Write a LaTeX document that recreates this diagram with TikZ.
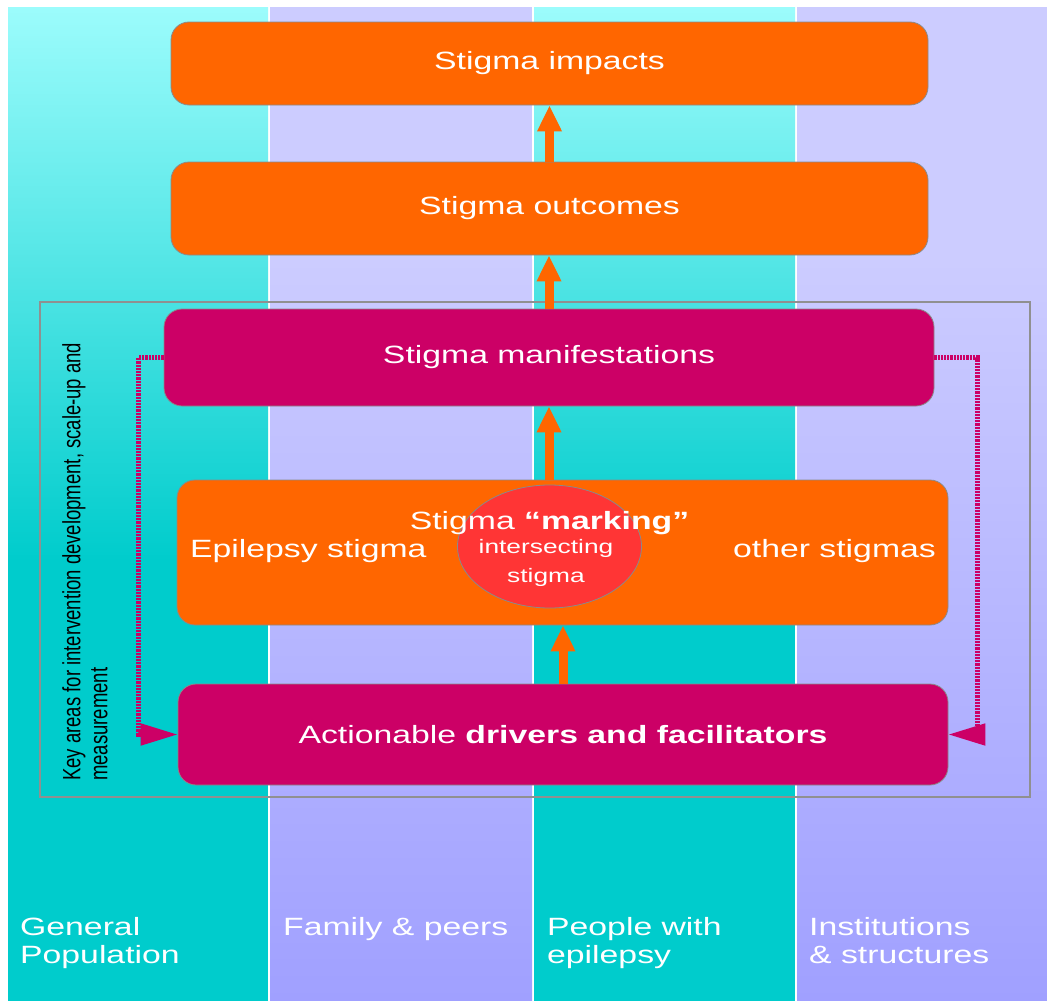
\documentclass[tikz,border=0pt]{standalone}
\usepackage{fontspec}
\setmainfont{Liberation Sans}
\newfontfamily\wf[FakeStretch=1.35]{Liberation Sans}
\newfontfamily\rf[FakeStretch=0.74]{Liberation Sans}
\usetikzlibrary{arrows.meta,shapes.geometric}
\definecolor{cyanA}{HTML}{00CCCC}
\definecolor{cyanL}{HTML}{9CFCFC}
\definecolor{lavA}{HTML}{CCCCFF}
\definecolor{lavB}{HTML}{A0A0FF}
\definecolor{orng}{HTML}{FF6600}
\definecolor{mag}{HTML}{CC0066}
\definecolor{redc}{HTML}{FF3535}
\definecolor{edge}{HTML}{8A8A8A}
\definecolor{frameg}{HTML}{909090}
\begin{document}
\begin{tikzpicture}[x=1pt,y=-1pt,
  box/.style={draw=edge, line width=0.8pt, rounded corners=18pt, inner sep=0pt,
    font=\wf\fontsize{25}{30}\selectfont, text=white},
  obox/.style={box, fill=orng},
  mbox/.style={box, fill=mag},
  uparrow/.style={draw=orng, line width=9pt, -{Triangle[length=26pt,width=23pt]}},
  dotarrow/.style={draw=mag, line width=5pt, dash pattern=on 2.2pt off 1pt,
    -{Triangle[length=37pt,width=21pt]}},
  lbl/.style={text=white, font=\wf\fontsize{25}{28}\selectfont, align=left,
    inner sep=0pt, anchor=base west},
  midtxt/.style={text=white, font=\wf\fontsize{25}{30}\selectfont, inner sep=0pt}
]
\useasboundingbox (0,0) rectangle (1047,1001);
\fill[white] (0,0) rectangle (1047,1001);
% columns
\fill[cyanA] (8,7) rectangle (268,1001);
\shade[top color=cyanL, bottom color=cyanA] (8,7) rectangle (268,560);
\fill[cyanA] (534,7) rectangle (795,1001);
\shade[top color=cyanL, bottom color=cyanA] (534,7) rectangle (795,560);
\fill[lavA] (270,7) rectangle (532,260);
\shade[top color=lavA, bottom color=lavB] (270,259) rectangle (532,1001);
\fill[lavA] (797,7) rectangle (1047,260);
\shade[top color=lavA, bottom color=lavB] (797,259) rectangle (1047,1001);

% frame
\node[draw=frameg, line width=1.2pt, minimum width=990pt, minimum height=495pt,
  inner sep=0pt] (frame) at (535,549.5) {};

% boxes
\node[obox, minimum width=757pt, minimum height=83pt] (impacts) at (549.5,63.5) {\raisebox{-2pt}{Stigma impacts}};
\node[obox, minimum width=757pt, minimum height=93pt] (outcomes) at (549.5,208.5) {\raisebox{-2pt}{Stigma outcomes}};
\node[mbox, minimum width=770pt, minimum height=97pt] (man) at (549,357.5) {\raisebox{-1pt}{Stigma manifestations}};
\node[obox, minimum width=771pt, minimum height=145pt] (mid) at (562.5,552.5) {};
\node[mbox, minimum width=770pt, minimum height=101pt] (act) at (563,734.5) {Actionable \textbf{drivers and facilitators}};

% arrows
\draw[uparrow] (outcomes.north) -- (outcomes.north |- impacts.south);
\draw[uparrow] (man.north) -- (man.north |- outcomes.south);
\draw[uparrow] (mid.north -| man.south) -- (man.south);
\draw[uparrow] (act.north) -- (act.north |- mid.south);

% ellipse
\node[ellipse, draw=edge, line width=0.8pt, fill=redc, minimum width=184pt,
  minimum height=123pt, inner sep=0pt] (circ) at (549.5,546.5) {};

% middle texts
\node[midtxt, anchor=base west] (epi) at (190,557) {Epilepsy stigma};
\node[midtxt, anchor=base east] (oth) at (936,557) {other stigmas};
\node[midtxt, anchor=base] (mark) at (549.5,529) {Stigma \textbf{“marking”}};
\node[text=white, font=\wf\fontsize{19.5}{29}\selectfont, inner sep=0pt, align=center,
  anchor=base] (inter) at (546,582) {intersecting\\stigma};

% dotted connectors
\draw[dotarrow] (man.west) -- ++(-25,0) |- (act.west);
\draw[dotarrow] (man.east) -- ++(43,0) |- (act.east);

% rotated side text
\node[rotate=90, anchor=north west, inner sep=0pt, align=left,
  font=\rf\fontsize{25}{27}\selectfont] (key) at (62,781)
  {Key areas for intervention development, scale-up and\\measurement};

% column labels
\node[lbl] (gen) at (20,963) {General\\Population};
\node[lbl] (fam) at (283,935) {Family \& peers};
\node[lbl] (pwe) at (547,963) {People with\\epilepsy};
\node[lbl] (ins) at (809,963) {Institutions\\\& structures};
\end{tikzpicture}
\end{document}
